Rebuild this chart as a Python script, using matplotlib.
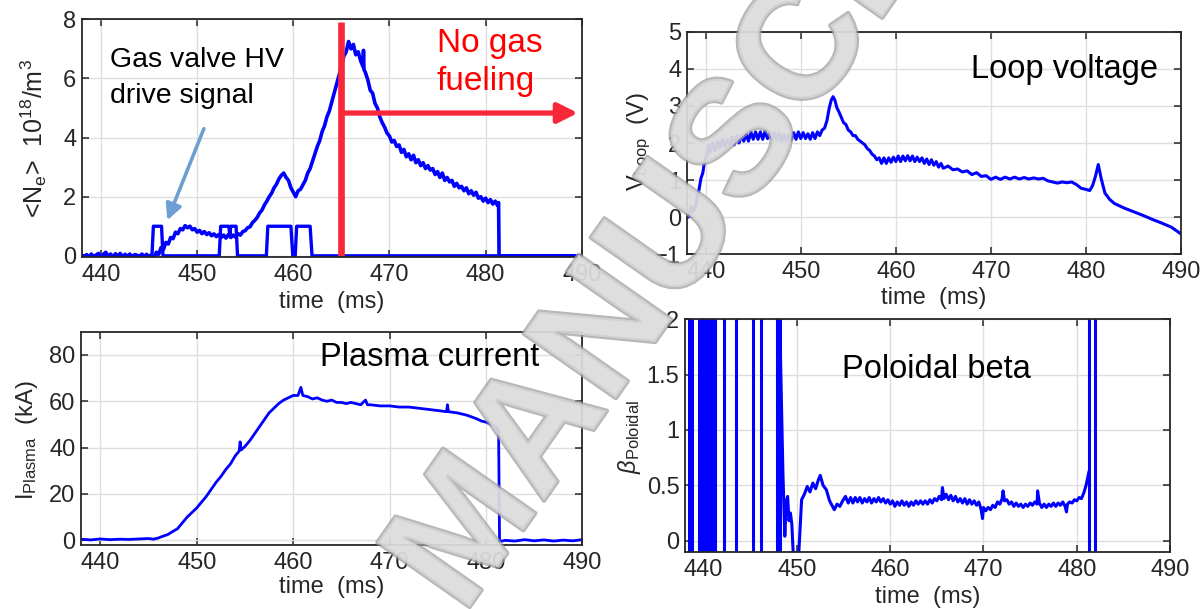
import matplotlib
matplotlib.use("Agg")
import matplotlib.pyplot as plt
import matplotlib.patheffects as pe

plt.rcParams['font.family'] = ['Liberation Sans', 'DejaVu Sans']
plt.rcParams['mathtext.fontset'] = 'custom'
plt.rcParams['mathtext.rm'] = 'Liberation Sans'
plt.rcParams['mathtext.it'] = 'Liberation Sans:italic'
plt.rcParams['mathtext.bf'] = 'Liberation Sans:bold'

# ---------------- data ----------------
x_ticks = [440, 450, 460, 470, 480, 490]

# line-averaged density (1e18 m^-3)
ne_t = [438.0, 438.25, 438.5, 438.75, 439.0, 439.25, 439.5, 439.75, 440.0, 440.25, 440.5, 440.75,
        441.0, 441.25, 441.5, 441.75, 442.0, 442.25, 442.5, 442.75, 443.0, 443.25, 443.5, 443.75,
        444.0, 444.25, 444.5, 444.75, 445.0, 445.25, 445.5, 445.75, 446.0, 446.25, 446.5, 446.75,
        447.0, 447.25, 447.5, 447.75, 448.0, 448.25, 448.5, 448.75, 449.0, 449.25, 449.5, 449.75,
        450.0, 450.25, 450.5, 450.75, 451.0, 451.25, 451.5, 451.75, 452.0, 452.25, 452.5, 452.75,
        453.0, 453.25, 453.5, 453.75, 454.0, 454.25, 454.5, 454.75,
        455.0, 455.25, 455.5, 455.75, 456.0, 456.25, 456.5, 456.75, 457.0, 457.25, 457.5, 457.75,
        458.0, 458.25, 458.5, 458.75, 459.0, 459.25, 459.5, 459.75, 460.0, 460.25, 460.5, 460.75,
        461.0, 461.25, 461.5, 461.75, 462.0, 462.25, 462.5, 462.75, 463.0, 463.25, 463.5, 463.75,
        464.0, 464.25, 464.5, 464.75, 465.0, 465.25, 465.5, 465.75, 466.0, 466.25, 466.5, 466.75,
        467.0, 467.25, 467.3, 467.35, 467.5, 467.75, 468.0, 468.25, 468.5, 468.75, 469.0, 469.25,
        469.5, 469.75, 470.0, 470.25, 470.5, 470.75, 471.0, 471.25, 471.5, 471.75, 472.0, 472.25,
        472.5, 472.75, 473.0, 473.25, 473.5, 473.75, 474.0, 474.25, 474.5, 474.75, 475.0, 475.25,
        475.5, 475.75, 476.0, 476.25, 476.5, 476.75, 477.0, 477.25, 477.5, 477.75, 478.0, 478.25,
        478.5, 478.75, 479.0, 479.25, 479.5, 479.75, 480.0, 480.25, 480.5, 480.75, 481.0, 481.25,
        481.35, 481.4, 490.0]
ne_val = [0.02, -0.05, 0.04, -0.03, 0.06, -0.04, 0.03, 0.08, -0.05, 0.05, 0.12, -0.02,
          0.06, -0.06, 0.07, 0.0, 0.08, -0.04, 0.05, -0.02, 0.06, -0.05, 0.04, 0.02,
          -0.04, 0.06, -0.02, 0.05, -0.06, 0.04, -0.15, 0.12, 0.05, 0.28, 0.22, 0.45,
          0.40, 0.62, 0.58, 0.80, 0.75, 0.92, 0.88, 1.02, 0.95, 1.00, 0.88, 0.92,
          0.80, 0.86, 0.75, 0.82, 0.72, 0.78, 0.68, 0.74, 0.65, 0.72, 0.62, 0.70,
          0.60, 0.72, 0.62, 0.70, 0.63, 0.75, 0.70, 0.82,
          0.85, 0.95, 0.98, 1.12, 1.20, 1.30, 1.45, 1.55, 1.72, 1.85, 2.00, 2.12,
          2.30, 2.42, 2.60, 2.72, 2.80, 2.65, 2.55, 2.30, 2.15, 2.00, 2.20, 2.25,
          2.40, 2.55, 2.80, 2.95, 3.20, 3.45, 3.70, 3.90, 4.20, 4.40, 4.70, 4.90,
          5.20, 5.50, 5.80, 6.10, 6.40, 6.75, 6.90, 7.25, 7.00, 7.15, 6.80, 6.90,
          6.60, 6.40, 6.95, 6.30, 6.20, 5.95, 5.60, 5.50, 5.15, 5.00, 4.70, 4.50,
          4.35, 4.15, 4.05, 3.85, 3.90, 3.70, 3.75, 3.50, 3.60, 3.35, 3.45, 3.25,
          3.40, 3.15, 3.25, 3.05, 3.15, 2.95, 3.05, 2.90, 2.95, 2.75, 2.85, 2.65,
          2.80, 2.55, 2.65, 2.50, 2.55, 2.35, 2.45, 2.30, 2.35, 2.20, 2.30, 2.10,
          2.20, 2.05, 2.15, 1.95, 2.00, 1.85, 1.95, 1.80, 1.90, 1.75, 1.85, 1.70,
          1.80, 0.0, 0.0]

# gas valve HV drive signal (on/off)
gas_t = [438.0, 445.3, 445.45, 446.3, 446.45, 452.3, 452.45, 453.3, 453.4, 453.5, 454.05, 454.2,
         457.2, 457.35, 459.75, 459.95, 460.2, 460.35, 461.75, 461.95, 490.0]
gas_val = [0, 0, 1, 1, 0, 0, 1, 1, 0.7, 1, 1, 0,
           0, 1, 1, 0, 0, 1, 1, 0, 0]

# loop voltage (V)
vl_t = [438.0, 438.15, 438.3, 438.5, 438.7, 438.9, 439.1, 439.3, 439.5, 439.7, 439.9, 440.1,
        440.3, 440.5, 440.75, 441.0, 441.25, 441.5, 441.75, 442.0, 442.25, 442.5, 442.75, 443.0,
        443.25, 443.5, 443.75, 444.0, 444.25, 444.5, 444.75, 445.0, 445.25, 445.5, 445.75, 446.0,
        446.25, 446.5, 446.75, 447.0, 447.25, 447.5, 447.75, 448.0, 448.25, 448.5, 448.75, 449.0,
        449.25, 449.5, 449.75, 450.0, 450.25, 450.5, 450.75, 451.0, 451.25, 451.5, 451.75, 452.0,
        452.25, 452.5, 452.75, 453.0, 453.2, 453.4, 453.6, 453.8, 454.0, 454.25, 454.5, 454.75,
        455.0, 455.25, 455.5, 455.75, 456.0, 456.25, 456.5, 456.75, 457.0, 457.25, 457.5, 457.75,
        458.0, 458.25, 458.5, 458.75, 459.0, 459.25, 459.5, 459.75, 460.0, 460.25, 460.5, 460.75,
        461.0, 461.25, 461.5, 461.75, 462.0, 462.25, 462.5, 462.75, 463.0, 463.25, 463.5, 463.75,
        464.0, 464.25, 464.5, 464.75, 465.0, 465.5, 466.0, 466.5, 467.0, 467.5, 468.0, 468.5,
        469.0, 469.5, 470.0, 470.5, 471.0, 471.5, 472.0, 472.5, 473.0, 473.5, 474.0, 474.5,
        475.0, 475.5, 476.0, 476.5, 477.0, 477.5, 478.0, 478.5, 479.0, 479.5, 480.0, 480.4,
        480.7, 481.0, 481.3, 481.6, 482.0, 482.5, 483.0, 484.0, 485.0, 486.0, 487.0, 488.0,
        489.0, 490.0]
vl_val = [0.20, 0.00, 0.05, 0.30, 0.15, 0.25, 0.55, 0.75, 1.05, 1.20, 1.55, 1.65,
          1.95, 1.75, 2.00, 1.80, 2.05, 1.85, 2.10, 1.90, 2.10, 1.95, 2.15, 1.95,
          2.20, 2.00, 2.20, 2.05, 2.25, 2.05, 2.30, 2.10, 2.30, 2.10, 2.30, 2.10,
          2.32, 2.12, 2.30, 2.10, 2.28, 2.08, 2.25, 2.05, 2.22, 2.05, 2.22, 2.08,
          2.28, 2.10, 2.30, 2.12, 2.28, 2.12, 2.25, 2.10, 2.28, 2.12, 2.30, 2.20,
          2.35, 2.40, 2.60, 2.95, 3.15, 3.25, 3.15, 2.95, 2.85, 2.70, 2.55, 2.50,
          2.35, 2.30, 2.20, 2.20, 2.10, 2.05, 2.00, 1.95, 1.85, 1.80, 1.70, 1.65,
          1.55, 1.60, 1.45, 1.60, 1.45, 1.60, 1.48, 1.62, 1.50, 1.65, 1.50, 1.65,
          1.52, 1.66, 1.52, 1.65, 1.50, 1.62, 1.50, 1.60, 1.45, 1.57, 1.42, 1.55,
          1.40, 1.50, 1.35, 1.45, 1.32, 1.38, 1.28, 1.30, 1.22, 1.25, 1.15, 1.20,
          1.10, 1.12, 1.02, 1.08, 1.02, 1.08, 1.03, 1.08, 1.03, 1.07, 1.03, 1.06,
          1.03, 1.05, 0.98, 0.95, 0.92, 0.95, 0.93, 0.95, 0.88, 0.78, 0.75, 0.72,
          0.85, 1.10, 1.42, 1.05, 0.65, 0.48, 0.37, 0.25, 0.15, 0.05, -0.06, -0.16,
          -0.27, -0.45]

# plasma current (kA)
ip_t = [438.0, 439.0, 440.0, 441.0, 442.0, 443.0, 444.0, 445.0, 445.5, 446.0, 446.5, 447.0,
        447.5, 448.0, 448.5, 449.0, 449.5, 450.0, 450.5, 451.0, 451.5, 452.0, 452.5, 453.0,
        453.5, 454.0, 454.4, 454.5, 454.6, 455.0, 455.5, 456.0, 456.5, 457.0, 457.5, 458.0,
        458.5, 459.0, 459.5, 460.0, 460.5, 460.8, 461.0, 461.5, 462.0, 462.5, 463.0, 463.5,
        464.0, 464.5, 465.0, 465.5, 466.0, 466.5, 467.0, 467.5, 467.7, 468.0, 469.0, 470.0,
        471.0, 472.0, 473.0, 474.0, 475.0, 475.9, 476.0, 476.1, 477.0, 478.0, 479.0, 479.5,
        480.0, 480.5, 481.0, 481.3, 481.4, 482.0, 483.0, 484.0, 485.0, 486.0, 487.0, 488.0,
        489.0, 490.0]
ip_val = [0.5, 0.2, 0.6, 0.3, 0.5, 0.4, 0.6, 0.8, 0.5, 1.0, 1.8, 2.5,
          3.8, 5.0, 7.5, 10.0, 12.0, 14.0, 16.5, 19.0, 22.0, 25.0, 27.5, 30.5,
          33.0, 36.5, 38.5, 42.5, 39.0, 40.5, 43.0, 46.0, 49.0, 52.0, 55.0, 57.0,
          59.0, 60.5, 61.5, 62.5, 62.5, 66.0, 62.5, 62.0, 61.0, 61.5, 60.5, 60.0,
          60.5, 59.5, 59.5, 59.0, 59.5, 59.0, 58.5, 60.5, 58.5, 58.5, 58.0, 58.0,
          57.5, 57.5, 57.0, 56.5, 56.0, 55.5, 58.5, 55.5, 55.0, 54.0, 52.5, 51.5,
          51.0, 50.0, 49.0, 47.5, -0.5, 0.0, -0.3, 0.3, -0.2, 0.2, -0.3, 0.1,
          -0.2, 0.3]

# poloidal beta
bp_spike_t = [438.4, 438.75, 439.5, 439.85, 440.05, 440.3, 440.5, 440.7, 440.9, 441.05, 441.25,
              442.15, 443.5, 445.3, 446.15, 447.85, 448.2, 481.3, 482.0]
bp_t = [448.2, 448.35, 448.5, 448.7, 448.85, 449.0, 449.15, 449.3, 449.45, 449.6, 450.2, 450.5,
        450.8, 451.1, 451.4, 451.7, 452.0, 452.3, 452.5, 452.8, 453.15, 453.5, 454.0, 454.3,
        454.6, 454.9, 455.2, 455.5, 455.75, 456.0, 456.25, 456.5, 456.75, 457.0, 457.25, 457.5,
        457.75, 458.0, 458.25, 458.5, 458.75, 459.0, 459.25, 459.5, 459.75, 460.0, 460.25, 460.5,
        460.75, 461.0, 461.25, 461.5, 461.75, 462.0, 462.25, 462.5, 462.75, 463.0, 463.25, 463.5,
        463.75, 464.0, 464.25, 464.5, 464.75, 465.0, 465.25, 465.5, 465.6, 465.75, 466.0, 466.25,
        466.5, 466.75, 467.0, 467.25, 467.5, 467.75, 468.0, 468.25, 468.5, 468.75, 469.0, 469.25,
        469.5, 469.75, 469.9, 470.0, 470.25, 470.5, 470.75, 471.0, 471.25, 471.5, 471.75, 472.0,
        472.1, 472.25, 472.5, 472.75, 473.0, 473.25, 473.5, 473.75, 474.0, 474.25, 474.5, 474.75,
        475.0, 475.25, 475.5, 475.75, 475.8, 476.0, 476.25, 476.5, 476.75, 477.0, 477.25, 477.5,
        477.75, 478.0, 478.25, 478.5, 478.75, 478.9, 479.0, 479.25, 479.5, 479.75, 480.0, 480.25,
        480.5, 480.75, 481.0, 481.2, 481.3]
bp_val = [1.80, 1.20, 0.60, 0.04, 0.35, 0.40, 0.18, 0.25, 0.15, -0.11, -0.11, 0.37,
          0.42, 0.49, 0.44, 0.52, 0.47, 0.55, 0.59, 0.50, 0.46, 0.36, 0.28, 0.33,
          0.31, 0.36, 0.40, 0.34, 0.39, 0.34, 0.39, 0.35, 0.39, 0.34, 0.38, 0.35,
          0.39, 0.34, 0.38, 0.35, 0.39, 0.35, 0.38, 0.34, 0.37, 0.33, 0.36, 0.31,
          0.35, 0.32, 0.36, 0.32, 0.35, 0.31, 0.35, 0.32, 0.36, 0.33, 0.36, 0.33,
          0.36, 0.33, 0.37, 0.34, 0.38, 0.36, 0.40, 0.37, 0.48, 0.38, 0.42, 0.37,
          0.41, 0.36, 0.40, 0.35, 0.38, 0.34, 0.38, 0.33, 0.37, 0.33, 0.36, 0.32,
          0.35, 0.28, 0.20, 0.30, 0.27, 0.30, 0.28, 0.32, 0.30, 0.35, 0.33, 0.38,
          0.45, 0.36, 0.37, 0.33, 0.35, 0.31, 0.34, 0.31, 0.33, 0.30, 0.33, 0.31,
          0.34, 0.32, 0.35, 0.33, 0.45, 0.34, 0.30, 0.33, 0.30, 0.33, 0.31, 0.34,
          0.31, 0.34, 0.32, 0.35, 0.31, 0.26, 0.33, 0.35, 0.34, 0.37, 0.36, 0.39,
          0.38, 0.43, 0.50, 0.58, 0.62]

# ---------------- styling helpers ----------------
BLUE = '#0000ff'
RED = '#f8283a'
AXC = '#262626'
FS_TICK = 17
FS_LAB = 17


def style(ax, xlim, ylim, yticks, ylabels=None):
    ax.set_xlim(*xlim)
    ax.set_ylim(*ylim)
    ax.set_xticks(x_ticks)
    ax.set_yticks(yticks)
    if ylabels is not None:
        ax.set_yticklabels(ylabels)
    ax.grid(True, color='#dedede', lw=1.0)
    ax.set_axisbelow(True)
    ax.tick_params(direction='in', length=5, width=1.1, top=True, right=True,
                   labelsize=FS_TICK, colors=AXC)
    ax.tick_params(axis='x', pad=5)
    ax.tick_params(axis='y', pad=4)
    for s in ax.spines.values():
        s.set_color(AXC)
        s.set_linewidth(1.3)


fig = plt.figure(figsize=(12.02, 6.09), dpi=100)

# ---- panel 1: density ----
ax1 = fig.add_axes([0.0680, 0.5780, 0.4160, 0.3903])
ax1.plot(ne_t, ne_val, color=BLUE, lw=2.6)
ax1.plot(gas_t, gas_val, color=BLUE, lw=2.4)
ax1.plot([465.0, 465.0], [-0.05, 7.9], color=RED, lw=4.8, solid_capstyle='butt', clip_on=False)
ax1.annotate('', xy=(489.6, 4.83), xytext=(465.0, 4.83),
             arrowprops=dict(arrowstyle='-|>,head_length=0.6,head_width=0.3', color=RED,
                             lw=3.8, mutation_scale=20, shrinkA=0, shrinkB=0))
ax1.annotate('', xy=(446.9, 1.2), xytext=(450.7, 4.3),
             arrowprops=dict(arrowstyle='-|>,head_length=0.6,head_width=0.3', color='#6f9fd2',
                             lw=2.6, mutation_scale=16, shrinkA=0, shrinkB=0))
ax1.text(440.9, 6.4, 'Gas valve HV', fontsize=20.5, color='black', va='baseline', ha='left')
ax1.text(440.9, 5.16, 'drive signal', fontsize=20.5, color='black', va='baseline', ha='left')
ax1.text(474.9, 6.9, 'No gas', fontsize=24, color='#ff0000', va='baseline', ha='left')
ax1.text(474.9, 5.6, 'fueling', fontsize=24, color='#ff0000', va='baseline', ha='left')
style(ax1, (438, 490), (-0.04, 8), [0, 2, 4, 6, 8])
ax1.text(-0.097, 0.498, r'<N$_\mathrm{e}$>  10$^{18}$/m$^3$', transform=ax1.transAxes,
         rotation=90, ha='center', va='center', fontsize=18, color=AXC)
ax1.text(0.5, -0.189, 'time  (ms)', transform=ax1.transAxes, ha='center', va='center',
         fontsize=FS_LAB, color=AXC)

# ---- panel 2: loop voltage ----
ax2 = fig.add_axes([0.5713, 0.5824, 0.4112, 0.3655])
ax2.plot(vl_t, vl_val, color=BLUE, lw=2.2)
ax2.text(487.6, 3.76, 'Loop voltage', fontsize=23.5, color='black', ha='right', va='baseline')
style(ax2, (438, 490), (-1, 5), [-1, 0, 1, 2, 3, 4, 5])
ax2.text(-0.0957, 0.505, r'V$_\mathrm{Loop}$  (V)', transform=ax2.transAxes,
         rotation=90, ha='center', va='center', fontsize=FS_LAB, color=AXC)
ax2.text(0.5, -0.194, 'time  (ms)', transform=ax2.transAxes, ha='center', va='center',
         fontsize=FS_LAB, color=AXC)

# ---- panel 3: plasma current ----
ax3 = fig.add_axes([0.0674, 0.1051, 0.4172, 0.3502])
ax3.plot(ip_t, ip_val, color=BLUE, lw=2.0)
ax3.text(462.8, 75.4, 'Plasma current', fontsize=23.5, color='black', ha='left', va='baseline')
style(ax3, (438, 490), (-2, 90), [0, 20, 40, 60, 80])
ax3.text(-0.107, 0.492, r'I$_\mathrm{Plasma}$  (kA)', transform=ax3.transAxes,
         rotation=90, ha='center', va='center', fontsize=FS_LAB, color=AXC)
ax3.text(0.5, -0.197, 'time  (ms)', transform=ax3.transAxes, ha='center', va='center',
         fontsize=FS_LAB, color=AXC)

# ---- panel 4: poloidal beta ----
ax4 = fig.add_axes([0.5699, 0.0931, 0.4035, 0.3826])
ax4.vlines(bp_spike_t, -1, 3, color=BLUE, lw=2.2)
ax4.plot(bp_t, bp_val, color=BLUE, lw=2.2)
ax4.text(454.8, 1.467, 'Poloidal beta', fontsize=23.5, color='black', ha='left', va='baseline')
style(ax4, (438, 490), (-0.105, 2), [0, 0.5, 1, 1.5, 2], ['0', '0.5', '1', '1.5', '2'])
ax4.text(-0.114, 0.495, r'$\beta_\mathrm{Poloidal}$', transform=ax4.transAxes,
         rotation=90, ha='center', va='center', fontsize=FS_LAB, color=AXC)
ax4.text(0.5, -0.192, 'time  (ms)', transform=ax4.transAxes, ha='center', va='center',
         fontsize=FS_LAB, color=AXC)

# ---- watermark ----
fig.text(0.6173, 0.7635, 'MANUSCRIPT', rotation=55, rotation_mode='anchor', ha='center', va='center',
         fontsize=118, fontweight='bold', family='Liberation Sans', color='#dcdcdc', alpha=0.75,
         path_effects=[pe.Stroke(linewidth=3, foreground='#a0a0a0'), pe.Normal()], zorder=10)

fig.savefig('out.png', dpi=100)
